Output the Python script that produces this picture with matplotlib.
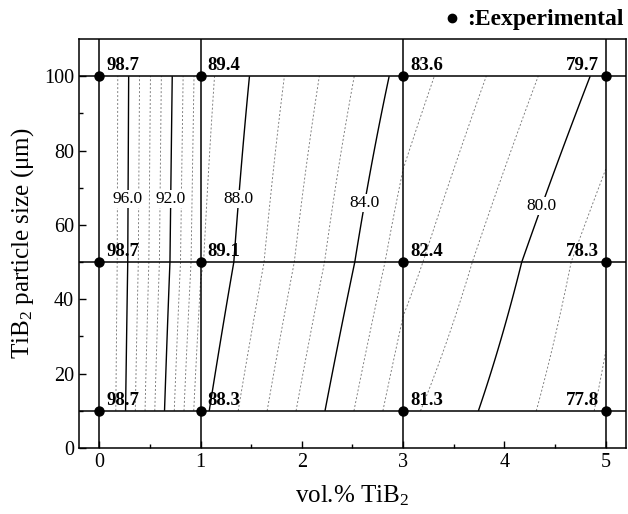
import numpy as np
import matplotlib
matplotlib.use("Agg")
import matplotlib.pyplot as plt
from matplotlib.lines import Line2D

plt.rcParams['font.family'] = ['Liberation Serif', 'DejaVu Serif']
plt.rcParams['mathtext.fontset'] = 'custom'
plt.rcParams['mathtext.rm'] = 'Liberation Serif'
plt.rcParams['mathtext.it'] = 'Liberation Serif:italic'
plt.rcParams['mathtext.bf'] = 'Liberation Serif:bold'

# Data
vol_pct = [0, 1, 3, 5]
particle_size = [10, 50, 100]
# rows: particle size 10, 50, 100 ; columns: vol% 0,1,3,5
values = [
    [98.7, 88.3, 81.3, 77.8],
    [98.7, 89.1, 82.4, 78.3],
    [98.7, 89.4, 83.6, 79.7],
]
dashed_levels = [77, 78, 79, 81, 82, 83, 85, 86, 87, 89, 90, 91, 93, 94, 95, 97]
solid_levels = [80, 84, 88, 92, 96]
label_heights = [65, 66, 67, 67, 67]   # y where each solid-level label sits
x_ticks = [0, 1, 2, 3, 4, 5]
y_ticks = [0, 20, 40, 60, 80, 100]

fig = plt.figure(figsize=(6.28, 5.14), dpi=100)
ax = fig.add_axes([0.1258, 0.1284, 0.871, 0.7956])

# bilinear interpolation onto a fine grid
Z = np.array(values)
xs = np.array(vol_pct, dtype=float)
ys = np.array(particle_size, dtype=float)
xi = np.linspace(xs.min(), xs.max(), 501)
yi = np.linspace(ys.min(), ys.max(), 361)
Zx = np.array([np.interp(xi, xs, row) for row in Z])
ZI = np.array([np.interp(yi, ys, Zx[:, k]) for k in range(len(xi))]).T
XI, YI = np.meshgrid(xi, yi)

ax.contour(XI, YI, ZI, levels=dashed_levels, colors='#7a7a7a',
           linestyles=[(0, (2.2, 2.2))], linewidths=0.65)
cs = ax.contour(XI, YI, ZI, levels=solid_levels, colors='black',
                linestyles='solid', linewidths=1.0)

# horizontal contour labels on white patches
for lev, yl in zip(solid_levels, label_heights):
    k = int(np.argmin(np.abs(yi - yl)))
    row = ZI[k]
    xl = np.interp(lev, row[::-1], xi[::-1])
    ax.text(xl, yi[k], f"{lev:.1f}", ha='center', va='center', fontsize=12.5,
            bbox=dict(facecolor='white', edgecolor='none', pad=0.6), zorder=4)

# grid lines through the experimental points
for xv in vol_pct:
    ax.axvline(xv, color='black', lw=1.1, zorder=3)
for yv in particle_size:
    ax.axhline(yv, color='black', lw=1.1, zorder=3)

# experimental points and labels
for j, yv in enumerate(particle_size):
    for i, xv in enumerate(vol_pct):
        ax.plot(xv, yv, 'o', color='black', ms=6.5, zorder=5)
        txt = f"{values[j][i]:.1f}"
        if xv == vol_pct[-1]:
            ax.annotate(txt, (xv, yv), xytext=(-5, 1.5), textcoords='offset points',
                        ha='right', va='bottom', fontsize=13.5, fontweight='bold', zorder=6)
        else:
            ax.annotate(txt, (xv, yv), xytext=(5, 1.5), textcoords='offset points',
                        ha='left', va='bottom', fontsize=13.5, fontweight='bold', zorder=6)

ax.set_xlim(-0.2, 5.2)
ax.set_ylim(0, 110)
ax.set_xticks(x_ticks)
ax.set_yticks(y_ticks)
ax.set_xticks(np.arange(-0.0, 5.01, 0.5), minor=True)
ax.set_yticks(np.arange(10, 110, 20), minor=True)
ax.tick_params(which='both', direction='in', labelsize=14.5, width=1.0)
ax.tick_params(which='major', length=5)
ax.tick_params(which='minor', length=3)
for sp in ax.spines.values():
    sp.set_linewidth(1.1)

ax.set_xlabel(r'vol.% TiB$_2$', fontsize=18, labelpad=8)
ax.set_ylabel('TiB$_2$ particle size (\u03bcm)', fontsize=18, labelpad=6)

# legend note: bullet marker + text
fig.add_artist(Line2D([0.7205], [0.9655], marker='o', color='black', ms=6,
                      transform=fig.transFigure))
fig.text(0.993, 0.982, ':Eexperimental', ha='right', va='top',
         fontsize=17, fontweight='bold')

fig.savefig('out.png', dpi=100)
